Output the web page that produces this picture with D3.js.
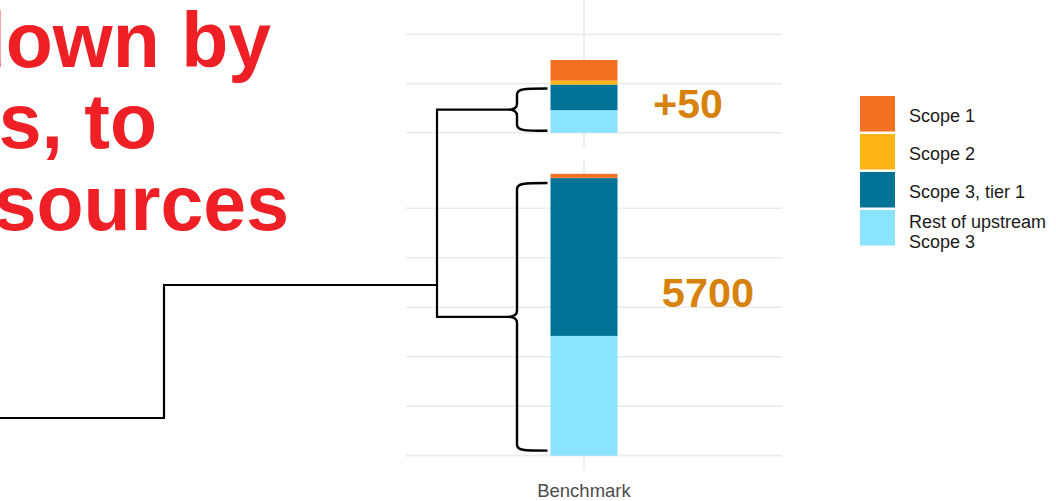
<!DOCTYPE html>
<html>
<head>
<meta charset="utf-8">
<script src="https://cdn.jsdelivr.net/npm/d3@7"></script>
<style>
  html, body { margin: 0; padding: 0; background: #fff; }
  svg { display: block; font-family: "Liberation Sans", Arial, sans-serif; }
</style>
</head>
<body>
<svg id="chart" width="1056" height="501"></svg>
<script>
// ---- data ----
const categories = ["Benchmark"];
const seriesNames = ["Scope 1", "Scope 2", "Scope 3, tier 1", "Rest of upstream Scope 3"];
const seriesColors = ["#F37022", "#FDB515", "#007396", "#8AE4FF"];
const topValues = [21, 4, 26, 23];          // upper (zoomed) panel
const bottomValues = [80, 5, 3190, 2420];   // lower panel
const topTicks = [0, 50, 100];
const bottomTicks = [0, 1000, 2000, 3000, 4000, 5000];
const bracketLabels = ["+50", "5700"];
const titleLines = ["down by", "s, to", "sources"];
const legendLabels = [["Scope 1"], ["Scope 2"], ["Scope 3, tier 1"], ["Rest of upstream", "Scope 3"]];

const svg = d3.select("#chart");

// ---- scales ----
const x = d3.scaleBand().domain(categories).range([386, 782]).paddingInner(0).paddingOuter(2.455);
const yTop = d3.scaleLinear().domain([-15, 135]).range([147.5, 0]);
const yBot = d3.scaleLinear().domain([-290, 5975]).range([470, 160]);

const gridColor = "#EBEBEB";

function drawPanel(scale, ticks, values, yTopPx, yBotPx) {
  const g = svg.append("g");
  g.selectAll("line.h").data(ticks).enter().append("line")
    .attr("x1", 406).attr("x2", 782)
    .attr("y1", d => scale(d)).attr("y2", d => scale(d))
    .attr("stroke", gridColor).attr("stroke-width", 1.6);
  g.selectAll("line.v").data(categories).enter().append("line")
    .attr("x1", d => x(d) + x.bandwidth() / 2).attr("x2", d => x(d) + x.bandwidth() / 2)
    .attr("y1", yTopPx).attr("y2", yBotPx)
    .attr("stroke", gridColor).attr("stroke-width", 1.6);
  const row = {cat: categories[0]};
  seriesNames.forEach((n, i) => row[n] = values[i]);
  const stack = d3.stack().keys(seriesNames.slice().reverse());
  const layers = stack([row]);
  layers.forEach(layer => {
    const idx = seriesNames.indexOf(layer.key);
    g.selectAll(null).data(layer).enter().append("rect")
      .attr("x", d => x(d.data.cat))
      .attr("width", x.bandwidth())
      .attr("y", d => scale(d[1]))
      .attr("height", d => Math.max(0, scale(d[0]) - scale(d[1])))
      .attr("fill", seriesColors[idx]);
  });
  return g;
}

drawPanel(yTop, topTicks, topValues, 0, 147);
drawPanel(yBot, bottomTicks, bottomValues, 160, 470);

// ---- x axis label ----
svg.append("text")
  .attr("x", x(categories[0]) + x.bandwidth() / 2).attr("y", 497)
  .attr("text-anchor", "middle").attr("font-size", 18.5).attr("fill", "#4D4D4D")
  .text(categories[0]);

// ---- braces ----
function bracePath(xt, xv, xp, y0, y1) {
  const ym = (y0 + y1) / 2;
  return `M${xt},${y0} C${xv + 6},${y0} ${xv},${y0 + 0.5} ${xv},${y0 + 6}` +
         ` L${xv},${ym - 6} C${xv},${ym - 1.5} ${xp + 5},${ym} ${xp},${ym}` +
         ` C${xp + 5},${ym} ${xv},${ym + 1.5} ${xv},${ym + 6}` +
         ` L${xv},${y1 - 6} C${xv},${y1 - 0.5} ${xv + 6},${y1} ${xt},${y1}`;
}
const barLeft = x(categories[0]);
const xt = barLeft - 3, xv = 517, xp = 508;
const topSpan = [yTop(topValues[2] + topValues[3]) + 4, yTop(0) - 2];
const botSpan = [yBot(bottomValues[2] + bottomValues[3]) + 5, yBot(0) - 5];
const topMid = (topSpan[0] + topSpan[1]) / 2;
const botMid = (botSpan[0] + botSpan[1]) / 2;

const lineG = svg.append("g").attr("fill", "none").attr("stroke", "#000");
lineG.append("path").attr("d", bracePath(xt, xv, xp, topSpan[0], topSpan[1])).attr("stroke-width", 2.4);
lineG.append("path").attr("d", bracePath(xt, xv, xp, botSpan[0], botSpan[1])).attr("stroke-width", 2.4);

const jx = 437;
lineG.append("path")
  .attr("d", `M${xp},${topMid} L${jx},${topMid} L${jx},${botMid} L${xp},${botMid}`)
  .attr("stroke-width", 2.2);
lineG.append("path")
  .attr("d", `M${jx},285 L164,285 L164,418 L0,418`)
  .attr("stroke-width", 2.2);

// ---- bracket labels ----
const labelColor = "#D6820C";
svg.append("text").attr("x", 688).attr("y", 118)
  .attr("text-anchor", "middle").attr("font-size", 41).attr("font-weight", "bold")
  .attr("fill", labelColor).text(bracketLabels[0]);
svg.append("text").attr("x", 708).attr("y", 306.5)
  .attr("text-anchor", "middle").attr("font-size", 41.5).attr("font-weight", "bold")
  .attr("fill", labelColor).text(bracketLabels[1]);

// ---- title (cropped at left edge, as in the reference) ----
const titleEnds = [271, 157, 289];
const titleBase = [66.5, 148, 230];
titleLines.forEach((t, i) => {
  svg.append("text").attr("x", titleEnds[i]).attr("y", titleBase[i])
    .attr("text-anchor", "end").attr("font-size", 77).attr("font-weight", "bold")
    .attr("fill", "#EE1F25").text(t);
});

// ---- legend ----
const leg = svg.append("g").attr("transform", "translate(860,96)");
legendLabels.forEach((lines, i) => {
  const gy = i * 38;
  leg.append("rect").attr("x", 0).attr("y", gy).attr("width", 35).attr("height", 35.5)
    .attr("fill", seriesColors[i]);
  const cy = gy + 17.75;
  const lh = 20;
  const first = cy + 8.5 - (lines.length - 1) * lh / 2 + (lines.length > 1 ? 1.5 : 0);
  const txt = leg.append("text").attr("x", 49).attr("font-size", 18).attr("fill", "#1A1A1A");
  lines.forEach((l, j) => {
    txt.append("tspan").attr("x", 49).attr("y", first + j * lh).text(l);
  });
});
</script>
</body>
</html>
